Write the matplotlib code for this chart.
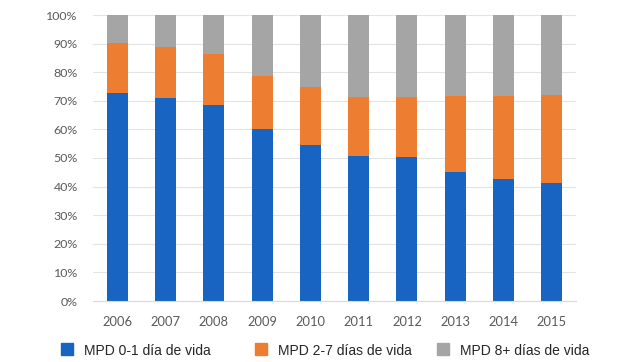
import matplotlib
matplotlib.use("Agg")
import matplotlib.pyplot as plt
from matplotlib.patches import Rectangle
import numpy as np

# Share of perinatal deaths by age at death (%)
years = ["2006", "2007", "2008", "2009", "2010", "2011", "2012", "2013", "2014", "2015"]
mpd_0_1 = [72.8, 71.1, 68.5, 60.3, 54.7, 50.8, 50.5, 45.1, 42.7, 41.4]
mpd_2_7 = [17.5, 17.8, 17.9, 18.5, 20.2, 20.6, 20.9, 26.7, 29.1, 30.7]
mpd_8_plus = [100 - a - b for a, b in zip(mpd_0_1, mpd_2_7)]

labels = ["MPD 0-1 día de vida", "MPD 2-7 días de vida", "MPD 8+ días de vida"]
colors = ["#1764C2", "#ED7D31", "#A5A5A5"]

W, H = 642, 362
fig = plt.figure(figsize=(W / 100, H / 100), dpi=100)
ax = fig.add_axes([93 / W, 1 - 301 / H, 483 / W, 286 / H])

x = np.arange(len(years))
bottom = np.zeros(len(years))
for vals, c in zip([mpd_0_1, mpd_2_7, mpd_8_plus], colors):
    ax.bar(x, vals, bottom=bottom, width=0.435, color=c, zorder=2)
    bottom += np.array(vals)

ax.set_xlim(-0.5, len(years) - 0.5)
ax.set_ylim(0, 100)
ax.set_yticks(np.arange(0, 101, 10))
ax.set_yticklabels([f"{v}%" for v in range(0, 101, 10)])
ax.set_xticks(x)
ax.set_xticklabels(years)
ax.yaxis.grid(True, color="#E3E3E3", linewidth=0.8, zorder=0)
ax.set_axisbelow(True)
for s in ["top", "right", "left"]:
    ax.spines[s].set_visible(False)
ax.spines["bottom"].set_color("#D9D9D9")
ax.tick_params(length=0, colors="#595959")
ax.tick_params(axis="y", pad=11, labelsize=8.9)
ax.tick_params(axis="x", pad=10.5, labelsize=9.3)
for t in ax.get_xticklabels() + ax.get_yticklabels():
    t.set_family("Lato")

# legend, laid out like the Excel one
leg_x = [61, 255, 437]
for lx, lab, c in zip(leg_x, labels, colors):
    fig.add_artist(Rectangle((lx / W, 1 - 355 / H), 12 / W, 12 / H,
                             transform=fig.transFigure, color=c))
    fig.text((lx + 23) / W, 1 - 355 / H, lab, family="Liberation Sans",
             fontsize=10, color="#262626", va="baseline")

fig.savefig("out.png", dpi=100)
